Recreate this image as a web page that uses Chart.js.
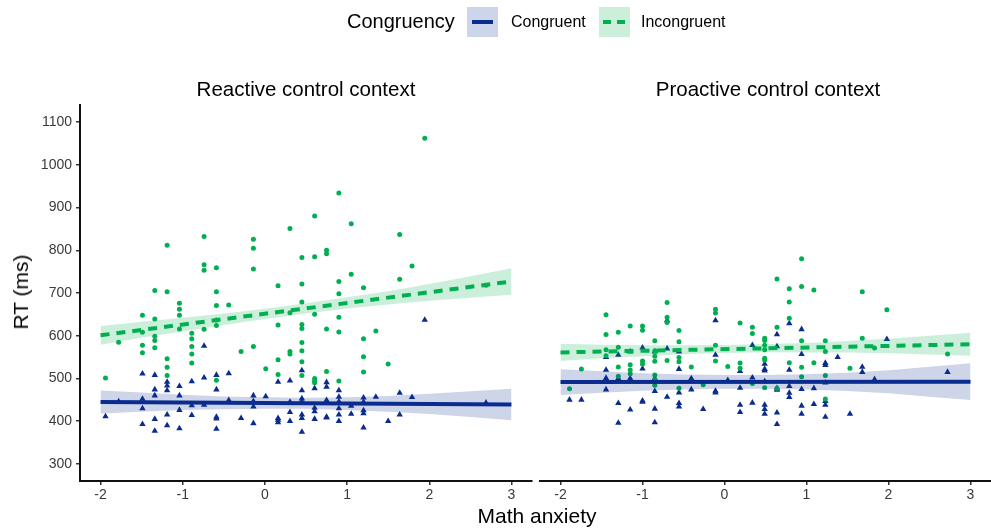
<!DOCTYPE html>
<html>
<head>
<meta charset="utf-8">
<script src="https://cdn.jsdelivr.net/npm/chart.js@4.4.0/dist/chart.umd.min.js"></script>
<style>
  body { margin: 0; background: #fff; font-family: 'Liberation Sans', Arial, sans-serif; }
  #wrap { position: relative; width: 991px; height: 528px; overflow: hidden; }
  canvas { position: absolute; left: 0; top: 0; }
  .txt { position: absolute; white-space: nowrap; color: #000; }
  .sw { position: absolute; top: 7px; width: 31px; height: 30px; }
  .sw div { position: absolute; top: 13px; height: 4px; }
</style>
</head>
<body>
<div id="wrap">
  <canvas id="left" width="991" height="528"></canvas>
  <canvas id="right" width="1010" height="528"></canvas>

  <!-- legend -->
  <div class="txt" style="left:347px; top:10px; font-size:20px;">Congruency</div>
  <div class="sw" style="left:467px; background:#cdd5ea;"><div style="left:5px; width:21px; background:#0b2c8f;"></div></div>
  <div class="txt" style="left:511px; top:13px; font-size:16px;">Congruent</div>
  <div class="sw" style="left:599px; background:#ccefdc;">
    <div style="left:4px; width:8px; background:#00b050;"></div>
    <div style="left:18px; width:8px; background:#00b050;"></div>
  </div>
  <div class="txt" style="left:641px; top:13px; font-size:16px;">Incongruent</div>

  <!-- strip titles -->
  <div class="txt" style="left:306px; top:77px; font-size:20.5px; transform:translateX(-50%);">Reactive control context</div>
  <div class="txt" style="left:768px; top:77px; font-size:20.5px; transform:translateX(-50%);">Proactive control context</div>

  <!-- axis titles -->
  <div class="txt" style="left:21px; top:292px; font-size:21px; transform:translate(-50%,-50%) rotate(-90deg);">RT (ms)</div>
  <div class="txt" style="left:537px; top:504px; font-size:21px; transform:translateX(-50%);">Math anxiety</div>
</div>

<script>
// ticks
var xTicks = [-2, -1, 0, 1, 2, 3];
var yTicks = [300, 400, 500, 600, 700, 800, 900, 1000, 1100];

// Reactive control context - incongruent (circles)
var reactiveIncX = [0.605, 0.305, -0.74, -1.19, -0.14, -0.14, 0.45, 0.605, -0.74, -0.74, -0.59, -0.14, 0.16, 0.45, -1.34, -1.19, -0.59,
  1.945, 0.90, 1.05, 1.64, 0.75, 0.75, 0.90, 1.05, 1.64, 1.79, 1.20, 0.90, 2.69,
  -0.59, -0.44, -1.04, -1.04, -1.04, -1.49, -1.34, -1.49, -1.78, -1.94, -1.34, -1.34, -1.34, -1.49, -1.49, -1.19, -1.19, -1.19,
  -1.04, -0.89, -0.89, -0.89, -0.89, -0.89, -0.74, -0.59, -0.59, -0.59, -0.29, -0.14, 0.01, 0.16, 0.16, 0.16, 0.305, 0.305, 0.305,
  0.45, 0.45, 0.45, 0.45, 0.45, 0.45, 0.45, 0.605, 0.605, 0.605, 0.605,
  0.90, 0.90, 0.75, 0.75, 0.90, 1.20, 1.20, 1.20, 1.35, 1.50];
var reactiveIncY = [880, 851, 832, 812, 826, 805, 783, 785, 766, 753, 759, 756, 717, 721, 706, 703, 703,
  1062, 934, 862, 837, 800, 792, 727, 744, 732, 763, 712, 698, 718,
  671, 672, 676, 662, 648, 648, 639, 608, 585, 501, 599, 589, 572, 578, 560, 546, 526, 507,
  616, 606, 593, 575, 557, 536, 615, 637, 624, 496, 563, 575, 523, 625, 544, 509, 563, 557, 654,
  679, 626, 617, 584, 565, 539, 507, 650, 500, 494, 490,
  643, 609, 616, 516, 494, 593, 551, 515, 611, 534];

// Reactive control context - congruent (triangles)
var reactiveConX = [-1.94, -1.78, -1.49, -1.49, -1.49, -1.49, -1.34, -1.34, -1.34, -1.34, -1.34, -1.19, -1.19, -1.19, -1.19, -1.19,
  -1.04, -1.04, -1.04, -1.04, -0.89, -0.89, -0.89, -0.74, -0.74, -0.74, -0.59, -0.59, -0.59, -0.59, -0.59, -0.44, -0.44, -0.29,
  -0.14, -0.14, -0.14, -0.14, 0.01, 0.16, 0.16, 0.16, 0.16, 0.305, 0.305, 0.305, 0.305, 0.45, 0.45, 0.45, 0.45, 0.45, 0.45, 0.45,
  0.605, 0.605, 0.605, 0.605, 0.75, 0.75, 0.75, 0.75, 0.75, 0.90, 0.90, 0.90, 0.90, 0.90, 0.90, 1.05, 1.05,
  1.20, 1.20, 1.20, 1.20, 1.20, 1.35, 1.50, 1.64, 1.64, 1.79, 1.945, 2.69];
var reactiveConY = [411, 446, 511, 452, 430, 393, 508, 474, 460, 405, 377, 492, 483, 472, 415, 390,
  482, 460, 426, 383, 493, 437, 414, 576, 502, 438, 508, 474, 410, 406, 382, 512, 449, 407,
  460, 447, 434, 395, 458, 492, 407, 403, 397, 495, 445, 421, 400, 519, 472, 453, 446, 415, 407, 375,
  477, 431, 423, 405, 491, 480, 449, 410, 408, 472, 457, 446, 430, 415, 400, 436, 417,
  455, 445, 425, 418, 385, 457, 400, 466, 415, 456, 637, 443];

// Proactive control context - incongruent (circles)
var proactiveIncX = [-1.89, -1.745, -1.445, -1.445, -1.445, -1.445, -1.295, -1.295, -1.295, -1.295, -1.15, -1.15, -1.15, -1.15,
  -1.0, -1.0, -1.0, -1.0, -0.85, -0.85, -0.85, -0.85, -0.85, -0.85, -0.85, -0.70, -0.70, -0.70, -0.70,
  -0.555, -0.555, -0.555, -0.555, -0.555, -0.405, -0.26, -0.11, -0.11, -0.11, -0.11, 0.04, 0.19, 0.19, 0.19, 0.34, 0.34, 0.34,
  0.94, 0.64, 0.79, 0.94, 1.09, 1.68, 0.79, 1.98, 0.79, 0.64, 0.49, 0.49, 0.49, 0.49, 0.94, 1.23, 1.23, 1.68, 1.83, 2.72,
  0.49, 0.49, 0.79, 0.94, 1.09, 1.53, 0.94, 1.23, 0.49, 0.64, 1.23];
var proactiveIncY = [476, 522, 649, 603, 567, 553, 608, 573, 527, 505, 623, 532, 520, 511,
  623, 613, 541, 534, 588, 564, 552, 540, 508, 497, 484, 678, 643, 631, 542,
  612, 586, 549, 539, 477, 527, 485, 662, 653, 578, 541, 528, 630, 536, 524, 620, 605, 488,
  780, 733, 710, 715, 707, 703, 679, 661, 641, 620, 594, 589, 578, 567, 588, 588, 563, 594, 571, 557,
  547, 543, 537, 526, 537, 524, 504, 507, 478, 477, 452];

// Proactive control context - congruent (triangles)
var proactiveConX = [-1.89, -1.745, -1.445, -1.445, -1.445, -1.445, -1.295, -1.295, -1.295, -1.295, -1.15, -1.15, -1.15,
  -1.0, -1.0, -1.0, -1.0, -0.85, -0.85, -0.85, -0.85, -0.85, -0.70, -0.70, -0.70,
  -0.555, -0.555, -0.555, -0.555, -0.555, -0.405, -0.405, -0.26, -0.11, -0.11, -0.11, -0.11, 0.04, 0.19, 0.19, 0.19, 0.19,
  0.34, 0.34, 0.34,
  0.79, 0.94, 0.64, 1.98, 0.64, 0.94, 1.38, 0.49, 0.49, 0.49, 0.79, 1.23, 1.23, 1.68, 1.68, 2.72, 0.49, 0.64, 0.64,
  0.79, 0.79, 0.79, 0.94, 1.09, 1.23, 1.23, 1.23, 1.83, 0.49, 0.49, 0.49, 0.64, 0.94, 0.94, 1.09, 1.23, 1.53, 0.64];
var proactiveConY = [450, 450, 550, 520, 501, 474, 555, 500, 442, 396, 563, 500, 427,
  572, 523, 448, 445, 563, 500, 470, 429, 397, 636, 570, 457,
  563, 522, 467, 442, 434, 500, 474, 428, 636, 555, 471, 467, 496, 517, 478, 438, 421,
  578, 502, 443,
  629, 615, 603, 592, 575, 557, 550, 534, 522, 518, 520, 536, 531, 527, 515, 515, 493, 477, 473,
  482, 466, 456, 475, 477, 490, 447, 438, 498, 438, 428, 417, 420, 436, 417, 440, 410, 417, 393];

// fitted lines (ends) and confidence bands
var fitX = [-2, 3];
var reactiveIncFit = [601, 727];
var reactiveConFit = [445, 439];
var proactiveIncFit = [561, 580];
var proactiveConFit = [491.5, 492.5];

var bandX = [-2, -1.5, -1, -0.5, 0, 0.5, 1, 1.5, 2, 2.5, 3];
var reactiveIncUpper = [623, 633, 642, 652, 663, 676, 690, 704, 721, 739, 758];
var reactiveIncLower = [579, 595, 610, 625, 639, 652, 664, 673, 682, 689, 696];
var reactiveConUpper = [472, 467, 462, 458, 456, 455, 456, 459, 464, 470, 476];
var reactiveConLower = [418, 422, 426, 428, 429, 429, 426, 422, 417, 410, 402];
var proactiveIncUpper = [581, 579, 578, 577.5, 578.5, 580.5, 583, 587.5, 593, 600, 607];
var proactiveIncLower = [541, 547, 552, 556.5, 559.5, 561.5, 561, 560.5, 559, 556, 553];
var proactiveConUpper = [521.5, 516.6, 512.1, 509.2, 507.9, 508, 510, 513.6, 519.3, 527.4, 535.5];
var proactiveConLower = [461.5, 466.6, 471.1, 474.2, 475.9, 476, 474, 470.6, 465.3, 457.4, 449.5];

var BLUE = '#0b2c8f';
var GREEN = '#00b050';
var BLUE_BAND = 'rgba(11, 44, 143, 0.2)';
var GREEN_BAND = 'rgba(0, 176, 80, 0.2)';
var FONT = "'Liberation Sans', Arial, sans-serif";

function pts(xs, ys) {
    return xs.map(function (x, i) { return { x: x, y: ys[i] }; });
}

function buildDatasets(p) {
    return [
        // lines on top
        { data: pts(fitX, p.incFit), borderColor: GREEN, borderWidth: 4, borderDash: [9, 7],
          pointRadius: 0, fill: false, order: 0 },
        { data: pts(fitX, p.conFit), borderColor: BLUE, borderWidth: 4,
          pointRadius: 0, fill: false, order: 0 },
        // bands
        { data: pts(bandX, p.incUpper), borderWidth: 0, pointRadius: 0, fill: '+1',
          backgroundColor: GREEN_BAND, order: 1 },
        { data: pts(bandX, p.incLower), borderWidth: 0, pointRadius: 0, fill: false, order: 1 },
        { data: pts(bandX, p.conUpper), borderWidth: 0, pointRadius: 0, fill: '+1',
          backgroundColor: BLUE_BAND, order: 1 },
        { data: pts(bandX, p.conLower), borderWidth: 0, pointRadius: 0, fill: false, order: 1 },
        // points
        { data: pts(p.incX, p.incY), showLine: false, pointStyle: 'circle', pointRadius: 2.5,
          backgroundColor: GREEN, pointBorderWidth: 0, order: 2 },
        { data: pts(p.conX, p.conY), showLine: false, pointStyle: 'triangle', pointRadius: 3.7,
          backgroundColor: BLUE, pointBorderWidth: 0, order: 2 }
    ];
}

function makePanel(id, p, isLeft) {
    var ctx = document.getElementById(id).getContext('2d');
    var yScale = {
        display: isLeft,
        min: 260, max: 1140,
        afterBuildTicks: function (s) { s.ticks = yTicks.map(function (v) { return { value: v }; }); },
        border: { display: true, color: '#111', width: 2 },
        grid: { display: true, drawOnChartArea: false, drawTicks: true, tickLength: 4,
                color: '#333', lineWidth: 1.5 },
        ticks: { color: '#3a3a3a', padding: 4, font: { family: FONT, size: 14 },
                 callback: function (v) { return String(v); } }
    };
    if (isLeft) {
        yScale.afterFit = function (s) { s.width = 80; };
    }
    return new Chart(ctx, {
        type: 'line',
        data: { datasets: buildDatasets(p) },
        options: {
            responsive: false,
            animation: false,
            devicePixelRatio: 1,
            layout: {
                // right canvas is a little wider than the page so its panel reaches the edge
                padding: isLeft ? { left: 0, top: 105, right: 459, bottom: 0 }
                                : { left: 540, top: 105, right: 19, bottom: 0 }
            },
            plugins: { legend: { display: false }, tooltip: { enabled: false } },
            scales: {
                x: {
                    type: 'linear', min: -2.25, max: 3.25,
                    afterBuildTicks: function (s) { s.ticks = xTicks.map(function (v) { return { value: v }; }); },
                    afterFit: function (s) { s.height = 47; },
                    border: { display: true, color: '#111', width: 2 },
                    grid: { display: true, drawOnChartArea: false, drawTicks: true, tickLength: 4,
                            color: '#333', lineWidth: 1.5 },
                    ticks: { color: '#3a3a3a', padding: 2, maxRotation: 0,
                             font: { family: FONT, size: 14 },
                             callback: function (v) { return String(v); } }
                },
                y: yScale
            }
        }
    });
}

makePanel('left', {
    incX: reactiveIncX, incY: reactiveIncY, conX: reactiveConX, conY: reactiveConY,
    incFit: reactiveIncFit, conFit: reactiveConFit,
    incUpper: reactiveIncUpper, incLower: reactiveIncLower,
    conUpper: reactiveConUpper, conLower: reactiveConLower
}, true);

makePanel('right', {
    incX: proactiveIncX, incY: proactiveIncY, conX: proactiveConX, conY: proactiveConY,
    incFit: proactiveIncFit, conFit: proactiveConFit,
    incUpper: proactiveIncUpper, incLower: proactiveIncLower,
    conUpper: proactiveConUpper, conLower: proactiveConLower
}, false);
</script>
</body>
</html>
